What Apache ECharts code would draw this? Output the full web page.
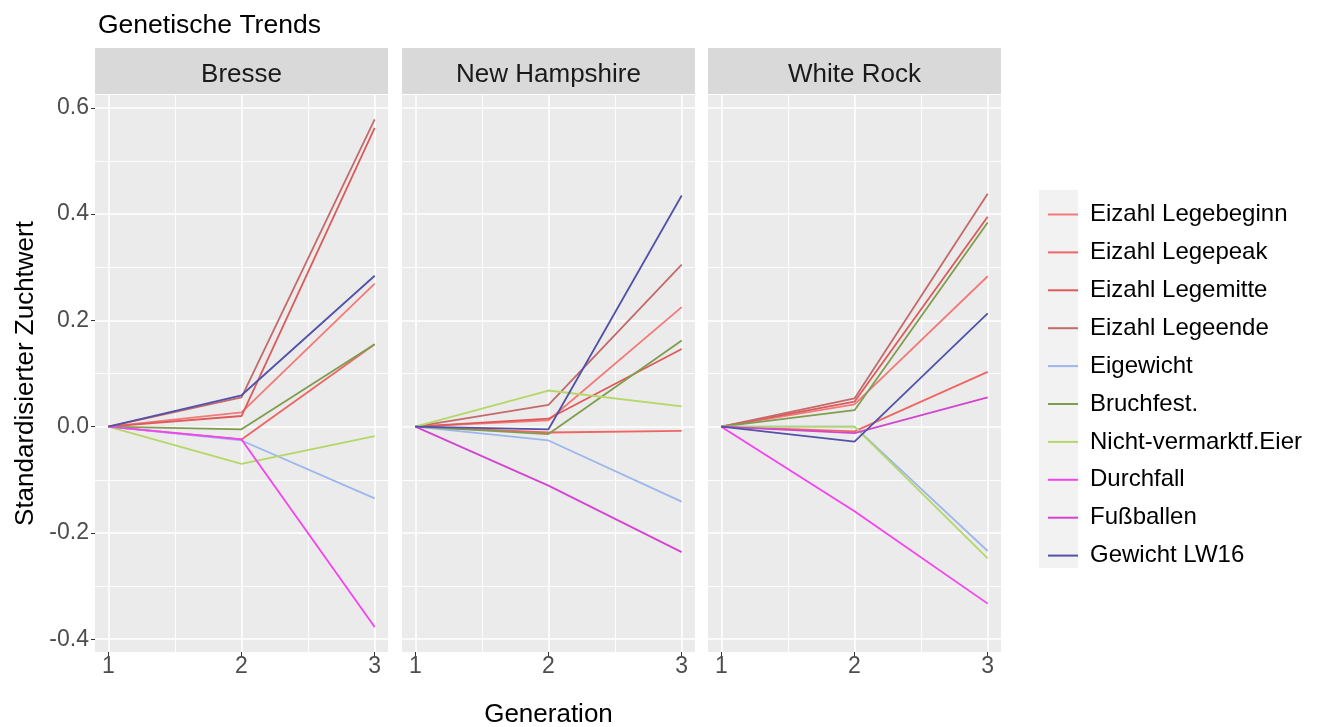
<!DOCTYPE html>
<html>
<head>
<meta charset="utf-8">
<script src="https://cdn.jsdelivr.net/npm/echarts@6/dist/echarts.min.js"></script>
<style>
  html, body { margin: 0; padding: 0; background: #fff; }
  #chart { width: 1318px; height: 727px; }
</style>
</head>
<body>
<div id="chart"></div>
<script>
// ---- data ----
const generations = [1, 2, 3];
const breeds = ['Bresse', 'New Hampshire', 'White Rock'];
const traits = ['Eizahl Legebeginn', 'Eizahl Legepeak', 'Eizahl Legemitte', 'Eizahl Legeende',
  'Eigewicht', 'Bruchfest.', 'Nicht-vermarktf.Eier', 'Durchfall', 'Fußballen', 'Gewicht LW16'];
const traitColors = ['#F37A78', '#F06464', '#DD5A5A', '#C46A6A', '#9DB6EE', '#7E9E4E',
  '#B5D767', '#F542F0', '#D344D0', '#5252A8'];
const yTicks = [-0.4, -0.2, 0, 0.2, 0.4, 0.6];
const xTicks = [1, 2, 3];

// values per trait (rows in trait order), generations 1..3
const bresseValues = [
  [0, 0.027, 0.269],
  [0, -0.024, 0.155],
  [0, 0.020, 0.562],
  [0, 0.055, 0.578],
  [0, -0.026, -0.135],
  [0, -0.005, 0.155],
  [0, -0.070, -0.018],
  [0, -0.024, -0.377],
  [null, null, null],
  [0, 0.059, 0.284]
];
const newHampshireValues = [
  [0, 0.012, 0.225],
  [0, -0.011, -0.008],
  [0, 0.015, 0.146],
  [0, 0.041, 0.305],
  [0, -0.026, -0.141],
  [0, -0.014, 0.162],
  [0, 0.068, 0.038],
  [null, null, null],
  [0, -0.111, -0.236],
  [0, -0.005, 0.435]
];
const whiteRockValues = [
  [0, 0.042, 0.283],
  [0, -0.009, 0.103],
  [0, 0.047, 0.395],
  [0, 0.053, 0.438],
  [0, 0.000, -0.234],
  [0, 0.031, 0.384],
  [0, 0.000, -0.248],
  [0, -0.159, -0.333],
  [0, -0.012, 0.055],
  [0, -0.028, 0.213]
];
const breedValues = [bresseValues, newHampshireValues, whiteRockValues];

// ---- layout ----
const panelLefts = [95, 402, 708];
const panelWidth = 293;
const panelTop = 95;
const panelBottom = 652;
const FONT = '"Liberation Sans", Arial, sans-serif';

const grids = [], xAxes = [], yAxes = [], series = [], graphics = [];

panelLefts.forEach((left, b) => {
  grids.push({
    left: left, top: panelTop, width: panelWidth, height: panelBottom - panelTop,
    show: true, backgroundColor: '#EBEBEB', borderWidth: 0, containLabel: false,
    outerBoundsMode: 'none'
  });
  xAxes.push({
    type: 'value', gridIndex: b, min: 0.9, max: 3.1, splitNumber: 2, position: 'bottom',
    axisLine: { show: false, onZero: false },
    axisTick: { show: true, length: 4, lineStyle: { color: '#333', width: 1 }, customValues: xTicks },
    axisLabel: { show: true, customValues: xTicks, color: '#4D4D4D', fontSize: 23, fontFamily: FONT, margin: 3,
      formatter: v => String(v) },
    splitLine: { show: true, showMinLine: true, showMaxLine: true, lineStyle: { color: '#FFFFFF', width: 1.6 } },
    minorTick: { show: false, splitNumber: 2 },
    minorSplitLine: { show: true, lineStyle: { color: '#FFFFFF', width: 0.9 } },
    name: b === 1 ? 'Generation' : '', nameLocation: 'middle', nameGap: 50,
    nameTextStyle: { color: '#000', fontSize: 26, fontFamily: FONT }
  });
  yAxes.push({
    type: 'value', gridIndex: b, min: -0.424, max: 0.624, splitNumber: 5, position: 'left',
    axisLine: { show: false, onZero: false },
    axisTick: { show: b === 0, length: 4, lineStyle: { color: '#333', width: 1 }, customValues: yTicks },
    axisLabel: { show: b === 0, customValues: yTicks, color: '#4D4D4D', fontSize: 23, fontFamily: FONT, margin: 6,
      formatter: v => v.toFixed(1) },
    splitLine: { show: true, showMinLine: true, showMaxLine: true, lineStyle: { color: '#FFFFFF', width: 1.6 } },
    minorTick: { show: false, splitNumber: 2 },
    minorSplitLine: { show: true, lineStyle: { color: '#FFFFFF', width: 0.9 } },
    name: b === 0 ? 'Standardisierter Zuchtwert' : '', nameLocation: 'middle', nameRotate: 90, nameGap: 56,
    nameTextStyle: { color: '#000', fontSize: 26, fontFamily: FONT }
  });

  traits.forEach((t, i) => {
    const vals = breedValues[b][i];
    series.push({
      type: 'line', name: t, xAxisIndex: b, yAxisIndex: b,
      data: generations.map((g, k) => [g, vals[k]]),
      symbol: 'none', showSymbol: false, silent: true, animation: false,
      lineStyle: { color: traitColors[i], width: 1.8 },
      itemStyle: { color: traitColors[i] }
    });
  });

  graphics.push({
    type: 'group', left: left, top: 48,
    children: [
      { type: 'rect', shape: { x: 0, y: 0, width: panelWidth, height: 46 }, style: { fill: '#D9D9D9' } },
      { type: 'text', x: panelWidth / 2, y: 27,
        style: { text: breeds[b], fill: '#1A1A1A', font: '26px ' + FONT, textAlign: 'center', textVerticalAlign: 'middle' } }
    ]
  });
});

graphics.push({
  type: 'rect', left: 1039, top: 190, z: 0,
  shape: { x: 0, y: 0, width: 39, height: 378 }, style: { fill: '#F2F2F2' }
});

const chart = echarts.init(document.getElementById('chart'), null, { renderer: 'canvas' });
chart.setOption({
  animation: false,
  backgroundColor: '#FFFFFF',
  title: {
    text: 'Genetische Trends', left: 93, top: 7,
    textStyle: { color: '#000', fontSize: 26.5, fontWeight: 'normal', fontFamily: FONT }
  },
  legend: {
    data: traits, orient: 'vertical', left: 1043, top: 196.5,
    icon: 'rect', itemWidth: 30, itemHeight: 2, itemGap: 11.9,
    selectedMode: false,
    textStyle: { color: '#000', fontSize: 24, lineHeight: 26, fontFamily: FONT, padding: [0, 0, 0, 7] }
  },
  grid: grids,
  xAxis: xAxes,
  yAxis: yAxes,
  series: series,
  graphic: graphics
});
</script>
</body>
</html>
